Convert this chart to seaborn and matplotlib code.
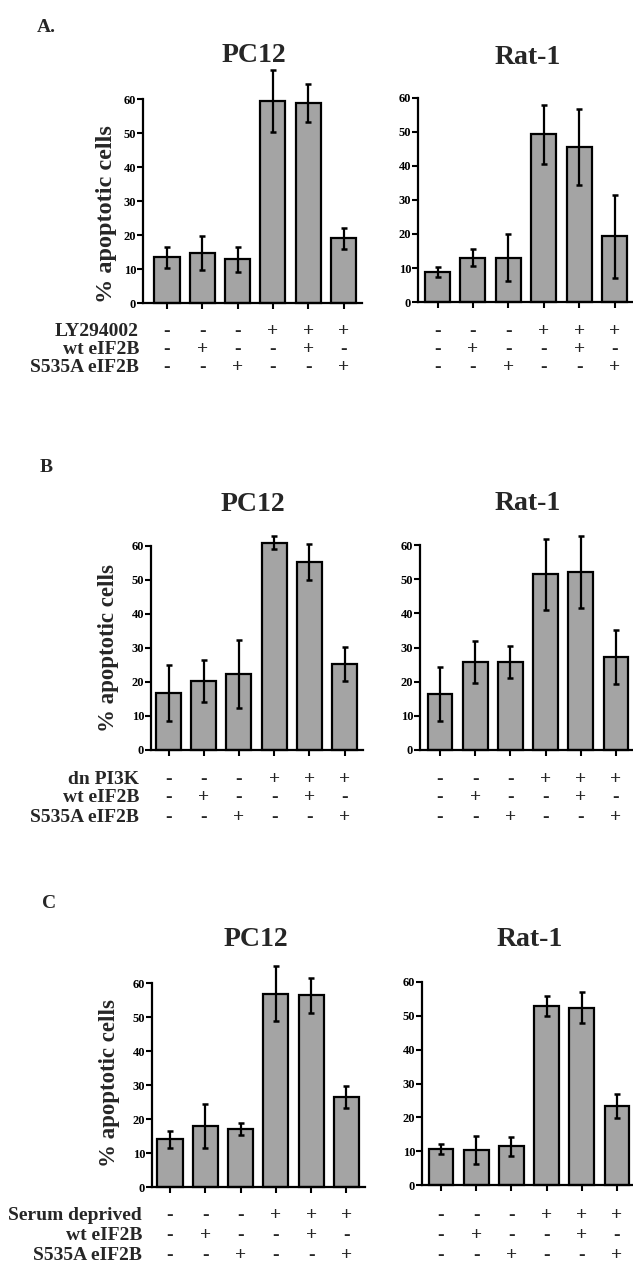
import matplotlib
matplotlib.use("Agg")
import matplotlib.pyplot as plt
import matplotlib.transforms as mtransforms
import seaborn as sns
import pandas as pd

sns.set_theme(style="white")
plt.rcParams['font.family'] = ['Liberation Serif', 'DejaVu Serif']
plt.rcParams['font.weight'] = 'bold'

# ---------------- data ----------------
conditions = ["c1", "c2", "c3", "c4", "c5", "c6"]

A_pc12_mean = [13.5, 14.8, 12.8, 59.4, 58.8, 19.0]
A_pc12_err = [3.1, 5.0, 3.6, 9.2, 5.7, 3.1]
A_rat_mean = [8.9, 13.0, 13.0, 49.3, 45.7, 19.4]
A_rat_err = [1.5, 2.5, 6.9, 8.6, 11.2, 12.2]

B_pc12_mean = [16.8, 20.4, 22.5, 61.0, 55.3, 25.3]
B_pc12_err = [8.3, 6.2, 10.0, 2.0, 5.2, 5.1]
B_rat_mean = [16.5, 25.7, 25.7, 51.5, 52.1, 27.3]
B_rat_err = [7.9, 6.2, 4.6, 10.4, 10.6, 7.9]

C_pc12_mean = [14.0, 18.0, 17.0, 56.8, 56.4, 26.5]
C_pc12_err = [2.5, 6.5, 1.8, 8.1, 5.1, 3.2]
C_rat_mean = [10.6, 10.3, 11.4, 53.0, 52.4, 23.4]
C_rat_err = [1.4, 4.1, 2.8, 3.0, 4.6, 3.5]

row1_signs = ["-", "-", "-", "+", "+", "+"]
row2_signs = ["-", "+", "-", "-", "+", "-"]
row3_signs = ["-", "-", "+", "-", "-", "+"]

A_row_labels = ["LY294002", "wt eIF2B", "S535A eIF2B"]
B_row_labels = ["dn PI3K", "wt eIF2B", "S535A eIF2B"]
C_row_labels = ["Serum deprived", "wt eIF2B", "S535A eIF2B"]

cell_lines = ["PC12", "Rat-1"]
panel_letters = ["A.", "B", "C"]
y_ticks = [0, 10, 20, 30, 40, 50, 60]
y_label = "% apoptotic cells"

# ---------------- layout (pixels) ----------------
W, H = 633, 1266
fig = plt.figure(figsize=(W / 100, H / 100), dpi=100)

BAR_COLOR = "#a4a4a4"

def px_rect(x0, x1, ytop, ybot):
    return [x0 / W, 1 - ybot / H, (x1 - x0) / W, (ybot - ytop) / H]

def draw_panel(means, errs, x0, x1, ytop, ybot, c1, pitch, title, title_xy, label=None):
    ax = fig.add_axes(px_rect(x0, x1, ytop, ybot))
    df = pd.DataFrame({"cond": conditions, "val": means})
    sns.barplot(data=df, x="cond", y="val", order=conditions, color=BAR_COLOR,
                saturation=1, edgecolor="black", linewidth=1.6, width=0.71,
                errorbar=None, ax=ax)
    for p in ax.patches:
        p.set_clip_on(False)
    eb = ax.errorbar(range(len(means)), means, yerr=errs, fmt="none", ecolor="black",
                     elinewidth=1.6, capsize=2.4, capthick=1.8, zorder=5)
    for art in eb.get_children():
        art.set_clip_on(False)
    left = -(c1 - x0) / pitch
    right = left + (x1 - x0) / pitch
    ax.set_xlim(left, right)
    ax.set_ylim(0, 60)
    ax.set_yticks(y_ticks)
    ax.set_yticklabels([str(t) for t in y_ticks], fontsize=9, fontweight="bold")
    ax.set_xticks(range(len(means)))
    ax.set_xticklabels([""] * len(means))
    ax.set_xlabel("")
    ax.set_ylabel("")
    for s in ["top", "right"]:
        ax.spines[s].set_visible(False)
    for s in ["left", "bottom"]:
        ax.spines[s].set_linewidth(1.6)
        ax.spines[s].set_color("black")
    ax.tick_params(axis="both", direction="out", length=4, width=1.5, color="black",
                   pad=1, labelcolor="black")
    ax.tick_params(axis="y", left=True)
    ax.tick_params(axis="x", bottom=True)
    ax.patch.set_alpha(0)
    fig.text(title_xy[0] / W, 1 - title_xy[1] / H, title, ha="center", va="center",
             fontsize=20, fontweight="bold")
    if label is not None:
        fig.text(label[0] / W, 1 - label[1] / H, y_label, rotation=90, ha="center",
                 va="center", fontsize=label[2], fontweight="bold")
    return ax

def draw_signs(ax, rows_y):
    trans = mtransforms.blended_transform_factory(ax.transData, fig.transFigure)
    for signs, yy in zip([row1_signs, row2_signs, row3_signs], rows_y):
        for i, s in enumerate(signs):
            ax.text(i, 1 - yy / H, s, transform=trans, ha="center", va="center",
                    fontsize=14, fontweight="bold")

def draw_row_labels(labels, x_right, rows_y):
    for lab, yy in zip(labels, rows_y):
        fig.text(x_right / W, 1 - yy / H, lab, ha="right", va="center",
                 fontsize=14, fontweight="bold")

# Panel A
axA1 = draw_panel(A_pc12_mean, A_pc12_err, 143, 362, 99, 303, 167, 35.3,
                  cell_lines[0], (254, 56), (107, 214, 17.5))
axA2 = draw_panel(A_rat_mean, A_rat_err, 418, 632, 98, 302, 437.5, 35.4,
                  cell_lines[1], (528, 57))
rowsA = [332, 350, 368]
draw_signs(axA1, rowsA)
draw_signs(axA2, rowsA)
draw_row_labels(A_row_labels, 139, rowsA)
fig.text(37 / W, 1 - 27 / H, panel_letters[0], ha="left", va="center", fontsize=14, fontweight="bold")

# Panel B
axB1 = draw_panel(B_pc12_mean, B_pc12_err, 151, 363, 546, 750, 168.5, 35.2,
                  cell_lines[0], (253, 505), (108, 648, 16.5))
axB2 = draw_panel(B_rat_mean, B_rat_err, 420, 632, 545, 750, 440, 35.2,
                  cell_lines[1], (528, 503))
rowsB = [779, 798, 817]
draw_signs(axB1, rowsB)
draw_signs(axB2, rowsB)
draw_row_labels(B_row_labels, 139, rowsB)
fig.text(40 / W, 1 - 467 / H, panel_letters[1], ha="left", va="center", fontsize=14, fontweight="bold")

# Panel C
axC1 = draw_panel(C_pc12_mean, C_pc12_err, 152, 365, 983, 1187, 170, 35.3,
                  cell_lines[0], (256, 940), (109, 1083, 16.5))
axC2 = draw_panel(C_rat_mean, C_rat_err, 422, 633, 982, 1185, 441, 35.2,
                  cell_lines[1], (530, 940))
rowsC = [1215, 1236, 1255]
draw_signs(axC1, rowsC)
draw_signs(axC2, rowsC)
draw_row_labels(C_row_labels, 142, rowsC)
fig.text(42 / W, 1 - 903 / H, panel_letters[2], ha="left", va="center", fontsize=14, fontweight="bold")

fig.savefig("out.png", dpi=100, facecolor="white")
